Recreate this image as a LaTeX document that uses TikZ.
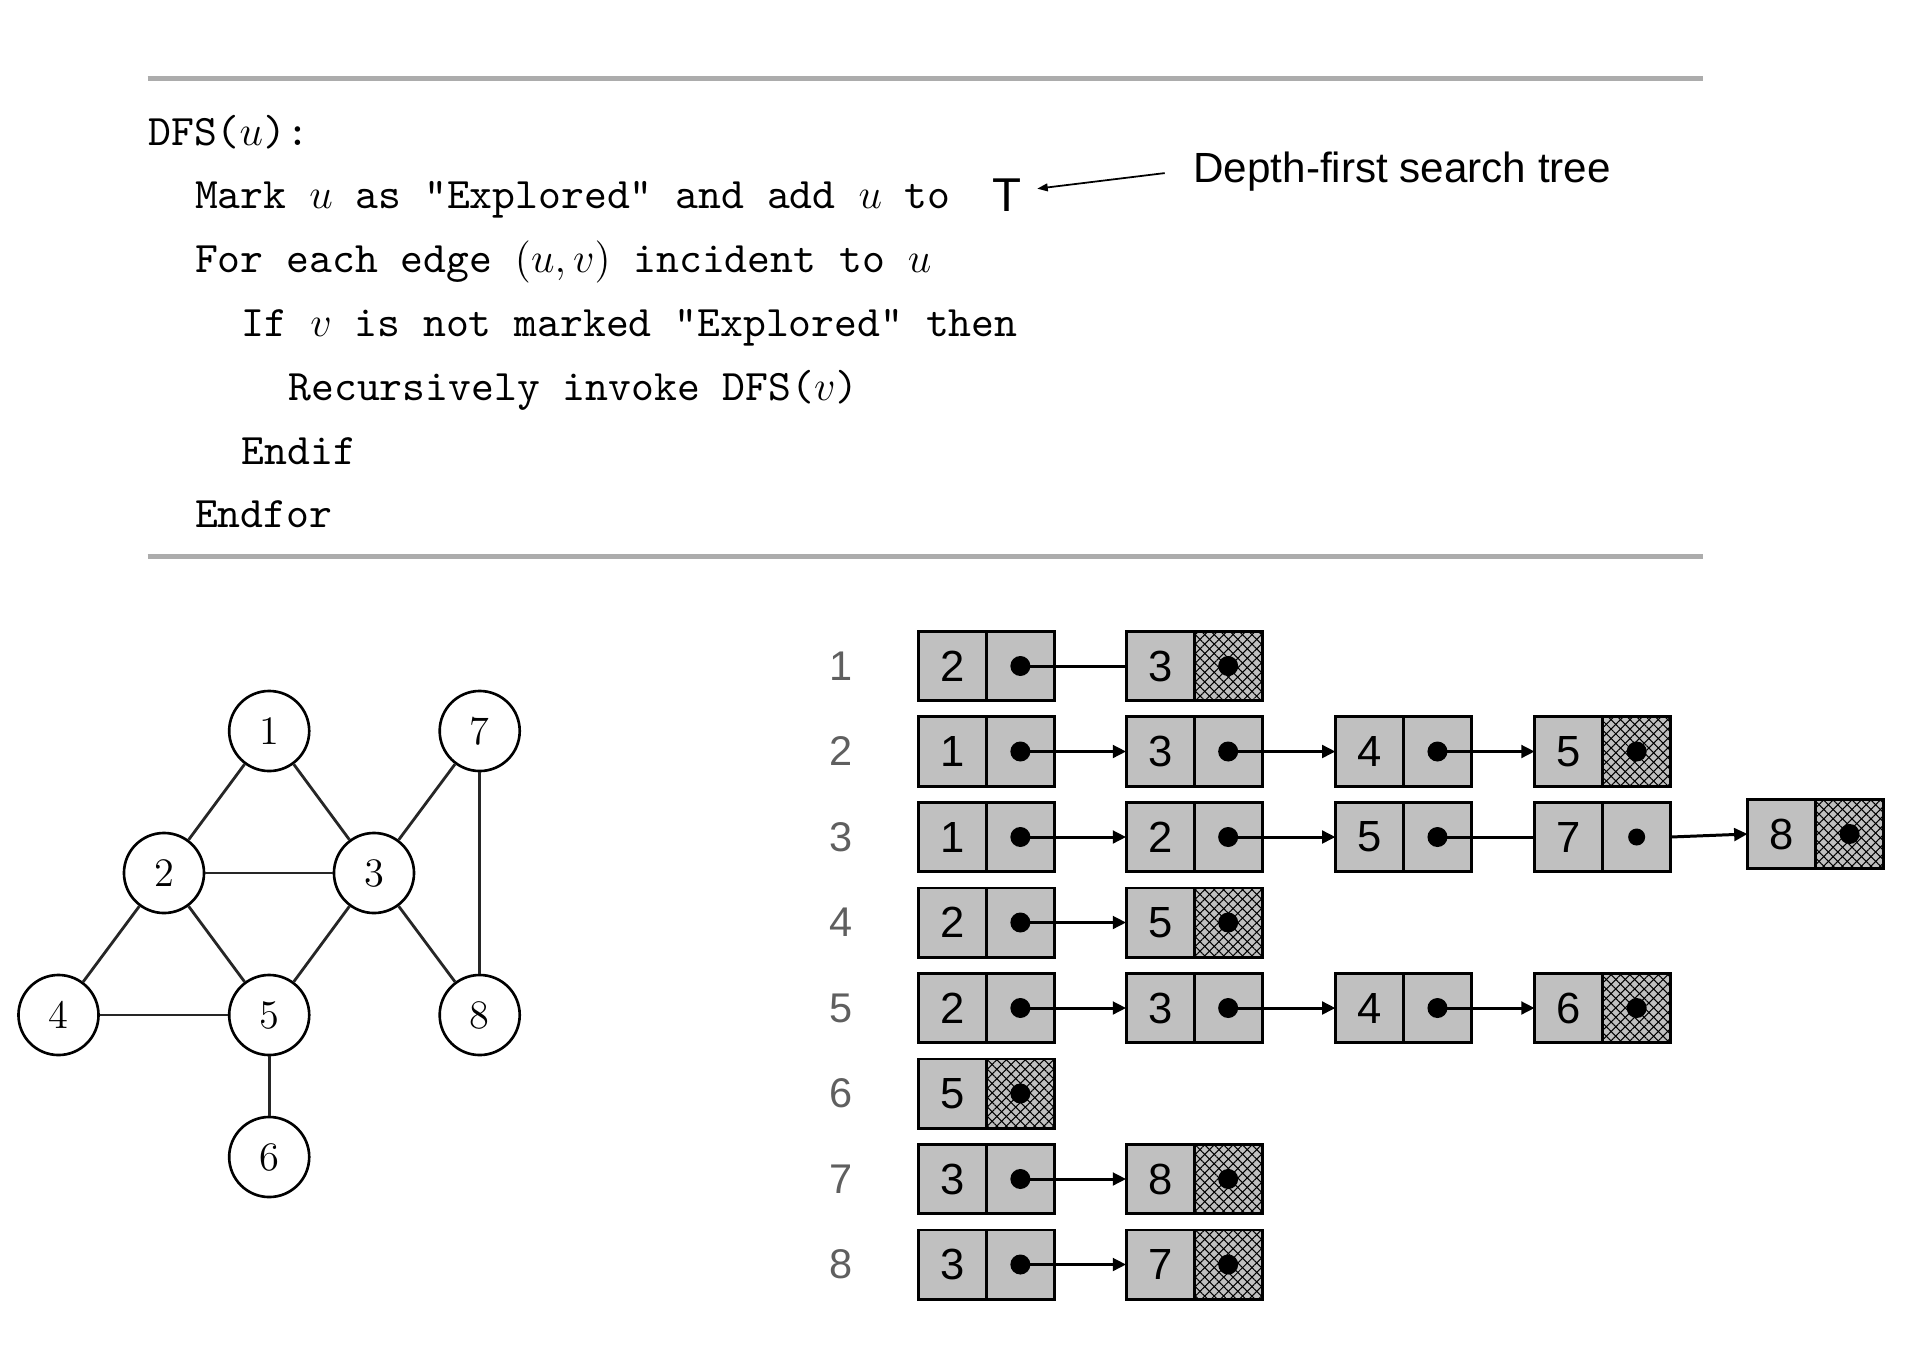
\documentclass[tikz,border=0pt]{standalone}
\usepackage{fontspec}
\newfontfamily\sansfnt{Liberation Sans}
\newfontfamily\codefnt{lmmono10-regular.otf}
\usetikzlibrary{arrows.meta,patterns.meta}
\definecolor{boxgray}{RGB}{192,192,192}
\definecolor{rulegray}{RGB}{172,172,172}
\definecolor{labgray}{RGB}{95,95,95}
\tikzset{
  code/.style={anchor=base west, inner sep=0, font=\codefnt\fontsize{12.38}{15}\selectfont},
  gnode/.style={circle, draw, line width=0.75pt, minimum size=0.8cm, inner sep=0, font=\fontsize{11.5}{14}\selectfont},
  gedge/.style={line width=0.8pt, draw=black!85},
  cellv/.style={rectangle, draw, line width=0.85pt, fill=boxgray, minimum width=0.68cm, minimum height=0.69cm, inner sep=0, outer sep=0, anchor=west, font=\sansfnt\fontsize{12.4}{14}\selectfont},
  cellp/.style={rectangle, draw, line width=0.85pt, fill=boxgray, minimum width=0.68cm, minimum height=0.69cm, inner sep=0, outer sep=0, anchor=west},
  cellh/.style={rectangle, fill=boxgray, minimum width=0.68cm, minimum height=0.69cm, inner sep=0, outer sep=0, anchor=west,
    postaction={pattern={Lines[angle=45,distance=1.9pt,line width=0.3pt]}},
    postaction={pattern={Lines[angle=-45,distance=1.9pt,line width=0.3pt]}},
    postaction={draw, line width=0.85pt}},
  dot/.style={circle, fill=black, inner sep=0, minimum size=0.2cm},
  smalldot/.style={circle, fill=black, inner sep=0, minimum size=0.17cm},
  rowlab/.style={font=\sansfnt\fontsize{11.8}{14}\selectfont, text=labgray, inner sep=0},
  link/.style={line width=0.85pt},
  ptr/.style={link, -{Triangle[length=3.8pt,width=3.6pt]}},
  note/.style={inner sep=0, font=\sansfnt\fontsize{12}{14}\selectfont},
}
\newcommand\lentry[5]{%
  \node[cellv] (#1a) at (#2,#3) {#4};
  \node[#5] (#1b) at (#1a.east) {};
}
\begin{document}
\begin{tikzpicture}[x=0.01cm,y=-0.01cm]
\useasboundingbox (0,0) rectangle (1918,1348);
% rules
\draw[line width=1.3pt, rulegray] (147.6,78.5) -- (1703,78.5);
\draw[line width=1.3pt, rulegray] (147.6,556.5) -- (1703,556.5);
% pseudocode
\node[code] (l1) at (147.6,145) {DFS($u$):};
\node[code] (l2) at (194.3,208.8) {Mark $u$ as "Explored" and add $u$ to};
\node[code] (l3) at (194.3,272.6) {For each edge $(u,v)$ incident to $u$};
\node[code] (l4) at (241,336.4) {If $v$ is not marked "Explored" then};
\node[code] (l5) at (287.8,400.2) {Recursively invoke DFS($v$)};
\node[code] (l6) at (241,464) {Endif};
\node[code] (l7) at (194.3,527.8) {Endfor};
\node[anchor=base, inner sep=0, font=\sansfnt\fontsize{13.5}{16}\selectfont] (tT) at (1007,211) {T};
\node[note, anchor=base west] (dfst) at (1192.7,182) {Depth-first search tree};
\draw[line width=0.5pt, -{Triangle[length=3pt,width=2.2pt]}] ([shift={(-28,2)}]dfst.west) -- ([shift={(15,-6)}]tT.east);
% graph
\node[gnode] (g1) at (269.2,731) {1};
\node[gnode] (g7) at (479.7,731) {7};
\node[gnode] (g2) at (164,873) {2};
\node[gnode] (g3) at (374,873) {3};
\node[gnode] (g4) at (58.5,1015) {4};
\node[gnode] (g5) at (269.2,1015) {5};
\node[gnode] (g8) at (479.7,1015) {8};
\node[gnode] (g6) at (269.2,1157) {6};
\draw[gedge] (g1) -- (g2);
\draw[gedge] (g1) -- (g3);
\draw[gedge] (g2) -- (g3);
\draw[gedge] (g2) -- (g4);
\draw[gedge] (g2) -- (g5);
\draw[gedge] (g3) -- (g5);
\draw[gedge] (g3) -- (g7);
\draw[gedge] (g3) -- (g8);
\draw[gedge] (g7) -- (g8);
\draw[gedge] (g4) -- (g5);
\draw[gedge] (g5) -- (g6);
% row labels
\node[rowlab] (lab1) at (841,666) {1};
\node[rowlab] (lab2) at (841,751.5) {2};
\node[rowlab] (lab3) at (841,837) {3};
\node[rowlab] (lab4) at (841,922.5) {4};
\node[rowlab] (lab5) at (841,1008) {5};
\node[rowlab] (lab6) at (841,1093.5) {6};
\node[rowlab] (lab7) at (841,1179) {7};
\node[rowlab] (lab8) at (841,1264.5) {8};
% row 1
\lentry{ra1}{918.3}{666}{2}{cellp}
\lentry{ra2}{1126.1}{666}{3}{cellh}
% row 2
\lentry{rb1}{918.3}{751.5}{1}{cellp}
\lentry{rb2}{1126.1}{751.5}{3}{cellp}
\lentry{rb3}{1335.4}{751.5}{4}{cellp}
\lentry{rb4}{1534.6}{751.5}{5}{cellh}
% row 3
\lentry{rc1}{918.3}{837}{1}{cellp}
\lentry{rc2}{1126.1}{837}{2}{cellp}
\lentry{rc3}{1335.4}{837}{5}{cellp}
\lentry{rc4}{1534.6}{837}{7}{cellp}
\lentry{rc5}{1747.5}{834}{8}{cellh}
% row 4
\lentry{rd1}{918.3}{922.5}{2}{cellp}
\lentry{rd2}{1126.1}{922.5}{5}{cellh}
% row 5
\lentry{re1}{918.3}{1008}{2}{cellp}
\lentry{re2}{1126.1}{1008}{3}{cellp}
\lentry{re3}{1335.4}{1008}{4}{cellp}
\lentry{re4}{1534.6}{1008}{6}{cellh}
% row 6
\lentry{rf1}{918.3}{1093.5}{5}{cellh}
% row 7
\lentry{rg1}{918.3}{1179}{3}{cellp}
\lentry{rg2}{1126.1}{1179}{8}{cellh}
% row 8
\lentry{rh1}{918.3}{1264.5}{3}{cellp}
\lentry{rh2}{1126.1}{1264.5}{7}{cellh}
% dots
\foreach \n in {ra1,ra2,rb1,rb2,rb3,rb4,rc1,rc2,rc3,rc5,rd1,rd2,re1,re2,re3,re4,rf1,rg1,rg2,rh1,rh2}
  \node[dot] (\n d) at (\n b.center) {};
\node[smalldot] (rc4d) at (rc4b.center) {};
% links
\draw[link] (ra1d.center) -- (ra2a.west);
\draw[ptr] (rb1d.center) -- (rb2a.west);
\draw[ptr] (rb2d.center) -- (rb3a.west);
\draw[ptr] (rb3d.center) -- (rb4a.west);
\draw[ptr] (rc1d.center) -- (rc2a.west);
\draw[ptr] (rc2d.center) -- (rc3a.west);
\draw[link] (rc3d.center) -- (rc4a.west);
\draw[ptr] (rc4b.east) -- (rc5a.west);
\draw[ptr] (rd1d.center) -- (rd2a.west);
\draw[ptr] (re1d.center) -- (re2a.west);
\draw[ptr] (re2d.center) -- (re3a.west);
\draw[ptr] (re3d.center) -- (re4a.west);
\draw[ptr] (rg1d.center) -- (rg2a.west);
\draw[ptr] (rh1d.center) -- (rh2a.west);
\end{tikzpicture}
\end{document}
